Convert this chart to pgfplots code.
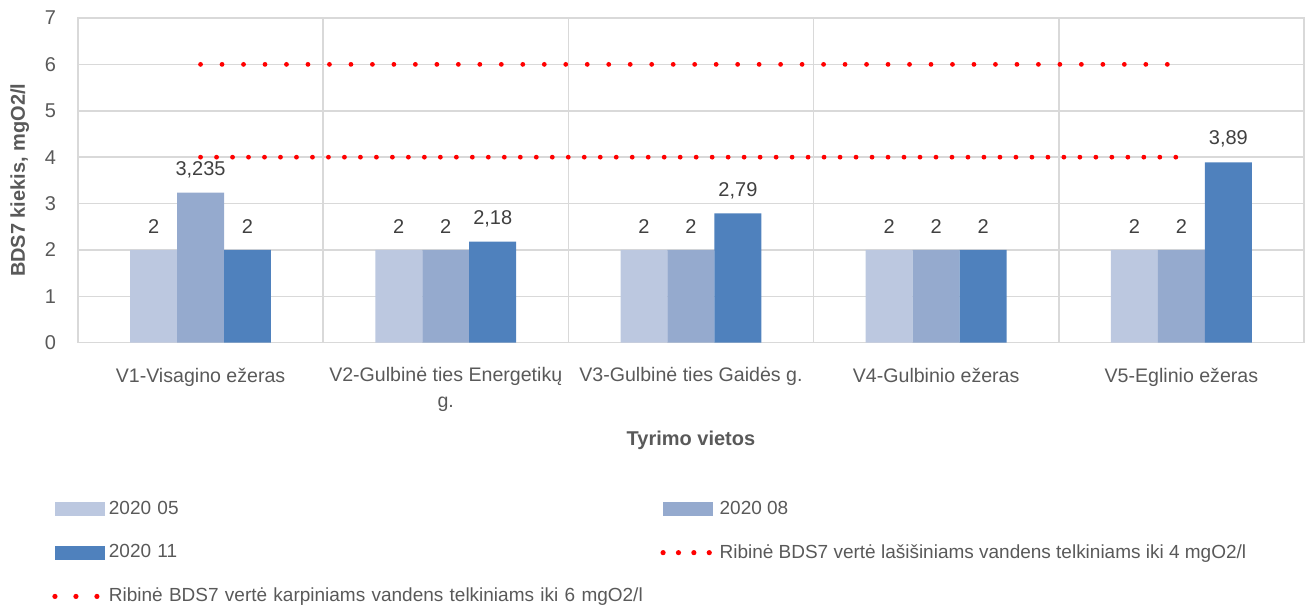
\documentclass[border=0pt]{standalone}
\usepackage{pgfplots}
\pgfplotsset{compat=1.18}
\usepackage{fontspec}
\setmainfont{Liberation Sans}
\definecolor{c05}{RGB}{188,200,224}
\definecolor{c08}{RGB}{149,170,206}
\definecolor{c11}{RGB}{79,129,189}
\definecolor{gridc}{RGB}{217,217,217}
\definecolor{txt}{RGB}{89,89,89}
\definecolor{dlab}{RGB}{64,64,64}
\definecolor{dotred}{RGB}{255,0,0}
\begin{document}
\begin{tikzpicture}
\begin{axis}[
  scale only axis, width=613.5pt, height=162.5pt,
  xmin=-0.5, xmax=4.5, ymin=0, ymax=7,
  ytick={0,1,2,3,4,5,6,7},
  xtick={0,1,2,3,4},
  xticklabels={V1-Visagino ežeras, {V2-Gulbinė ties Energetikų\\g.}, V3-Gulbinė ties Gaidės g., V4-Gulbinio ežeras, V5-Eglinio ežeras},
  xticklabel style={align=center, font=\fontsize{9.8}{13}\selectfont, text=txt, yshift=-9pt},
  yticklabel style={font=\fontsize{10}{12}\selectfont, text=txt, xshift=-7.5pt},
  /pgf/number format/assume math mode=true,
  minor xtick={-0.5,0.5,1.5,2.5,3.5,4.5},
  xminorgrids, ymajorgrids,
  grid style={gridc, line width=0.75pt},
  minor grid style={gridc, line width=0.75pt},
  axis line style={gridc, line width=0.75pt},
  major tick length=0pt, minor tick length=0pt,
  xlabel={Tyrimo vietos},
  ylabel={BDS7 kiekis, mgO2/l},
  xlabel style={font=\bfseries\fontsize{10}{12}\selectfont, text=txt, at={(axis description cs:0.5,0)}, anchor=center, yshift=-49pt},
  ylabel style={font=\bfseries\fontsize{10}{12}\selectfont, text=txt, yshift=1pt},
  ybar=0pt, bar width=23.5pt,
  legend columns=2,
  legend cell align=left,
  legend style={at={(axis description cs:0,0)}, anchor=north west, xshift=-16pt, yshift=-75pt,
    draw=none, fill=none, font=\fontsize{9.5}{11}\selectfont, text=txt,
    row sep=9.5pt,
    /tikz/column 2/.append style={text width=274pt},
    /tikz/every even column/.append style={column sep=0pt}},
]
\addplot[fill=c05, draw=none, nodes near coords, every node near coord/.append style={font=\fontsize{10}{12}\selectfont, text=dlab, anchor=center, yshift=11.5pt, /pgf/number format/use comma, /pgf/number format/precision=3},
  legend image code/.code={\fill[c05] (0pt,-3.5pt) rectangle (25pt,3.5pt);}]
  coordinates {(0,2) (1,2) (2,2) (3,2) (4,2)};
\addlegendentry{2020 05}
\addplot[fill=c08, draw=none, nodes near coords, every node near coord/.append style={font=\fontsize{10}{12}\selectfont, text=dlab, anchor=center, yshift=11.5pt, /pgf/number format/use comma, /pgf/number format/precision=3},
  legend image code/.code={\fill[c08] (0pt,-3.5pt) rectangle (25pt,3.5pt);}]
  coordinates {(0,3.235) (1,2) (2,2) (3,2) (4,2)};
\addlegendentry{2020 08}
\addplot[fill=c11, draw=none, nodes near coords, every node near coord/.append style={font=\fontsize{10}{12}\selectfont, text=dlab, anchor=center, yshift=11.5pt, /pgf/number format/use comma, /pgf/number format/precision=3},
  legend image code/.code={\fill[c11] (0pt,-3.5pt) rectangle (25pt,3.5pt);}]
  coordinates {(0,2) (1,2.18) (2,2.79) (3,2) (4,3.89)};
\addlegendentry{2020 11}
\addplot[sharp plot, dotred, line width=2.4pt, line cap=round, dash pattern=on 0pt off 8pt, mark=none,
  legend image code/.code={\draw[dotred, line width=2.6pt, line cap=round, dash pattern=on 0pt off 7.7pt] (0pt,0pt) -- (25pt,0pt);}]
  coordinates {(0,4) (4,4)};
\addlegendentry{Ribinė BDS7 vertė lašišiniams vandens telkiniams iki 4 mgO2/l}
\addplot[sharp plot, dotred, line width=2.4pt, line cap=round, dash pattern=on 0pt off 10.75pt, mark=none,
  legend image code/.code={\draw[dotred, line width=2.6pt, line cap=round, dash pattern=on 0pt off 10.5pt] (0pt,0pt) -- (22pt,0pt);}]
  coordinates {(0,6) (4,6)};
\addlegendentry{Ribinė BDS7 vertė karpiniams vandens telkiniams iki 6 mgO2/l}
\end{axis}
\path ([shift={(-39pt,-132.5pt)}]current axis.south west) rectangle ([shift={(0.5pt,9pt)}]current axis.north east);
\end{tikzpicture}
\end{document}
